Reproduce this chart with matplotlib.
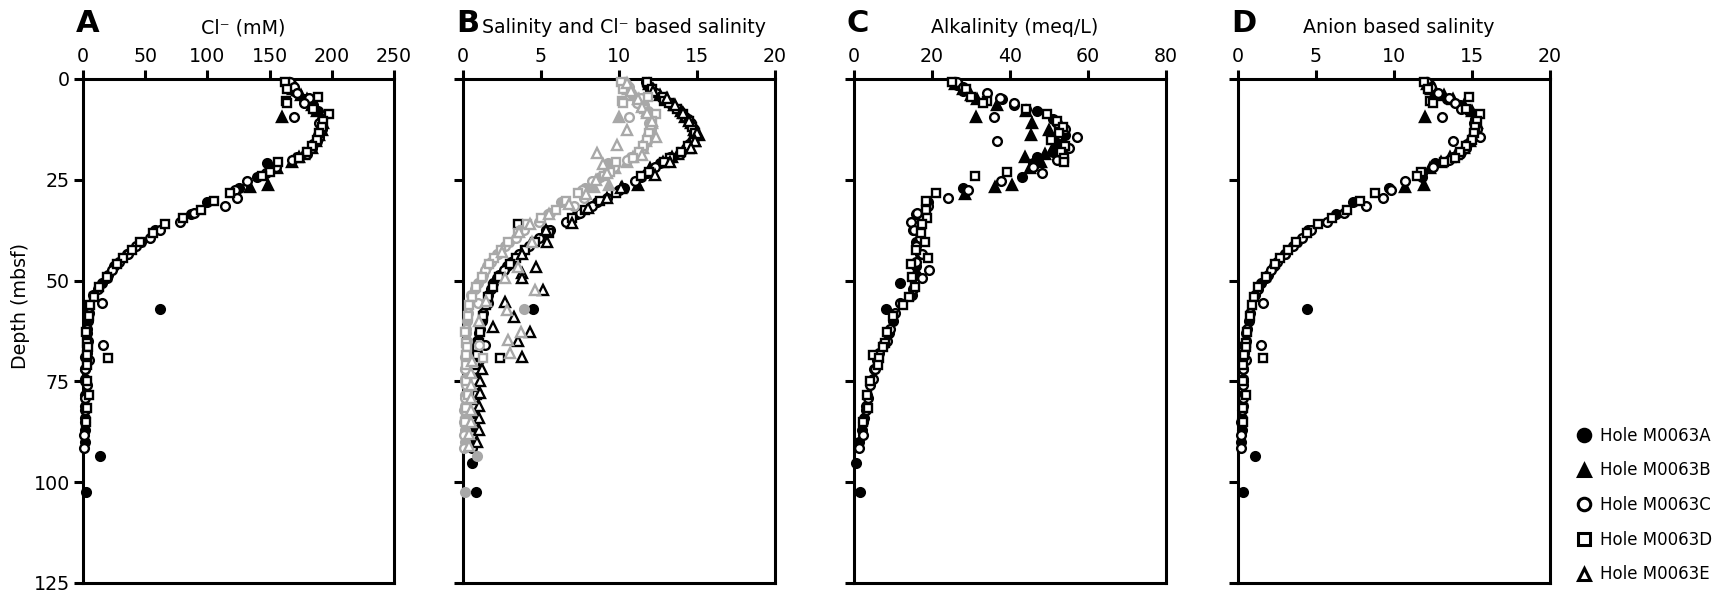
import numpy as np
import matplotlib
matplotlib.use("Agg")
import matplotlib.pyplot as plt
from matplotlib.lines import Line2D

plt.rcParams["font.family"] = ["DejaVu Sans"]

nan = np.nan

# ---------------- Hole M0063A ----------------
depth_a = [1.5, 3.0, 5.0, 6.4, 8.0, 10.0, 12.0, 14.0, 16.0, 18.0,
           19.3, 20.8, 24.2, 27.0, 30.5, 33.5, 37.5, 40.5, 43.5, 46.5,
           48.5, 50.6, 53.6, 57.0, 60.0, 63.0, 66.0, 69.0, 72.0, 75.0,
           78.4, 81.0, 84.0, 87.0, 90.0, 93.5, 95.3, 102.5]
cl_a = [168, 170, 178, 185, 189, 192, 191, 189, 185, 180,
        172, 148, 140, 125, 100, 87, 58, 47, 35, 25,
        20, 15, 8, 62, 4, 3, 3, 2, 2, 2,
        2, 2, 2, 2, 2, 14, nan, 2.5]
sal_a = [11.8, 12.0, 12.9, 13.4, 13.9, 14.4, 14.7, 14.9, 14.5, 14.0,
         13.3, 12.6, 11.4, 10.3, 8.6, 7.3, 5.3, 4.5, 3.7, 2.8,
         2.3, 1.9, 1.6, 4.5, 1.2, 1.0, 0.9, 0.8, 0.8, 0.8,
         0.8, 0.7, 0.7, 0.6, 0.6, nan, 0.6, 0.85]
anion_a = [12.3, 12.5, 13.4, 14.2, 14.8, 15.2, 15.2, 15.1, 14.7, 14.3,
           13.8, 12.6, 11.8, 9.7, 7.4, 6.3, 4.5, 3.8, 3.0, 2.3,
           1.9, 1.5, 1.1, 4.4, 0.7, 0.5, 0.4, 0.35, 0.3, 0.3,
           0.3, 0.3, 0.25, 0.25, 0.2, 1.1, nan, 0.3]
alk_a = [26.5, 28, 38, 41, 47, 51, 53, 54, 53, 51,
         47, 46, 43, 28, 19, 16, 15, 16, 17, 16,
         16, 11.9, 14.9, 8.2, 10, 9, 7.5, 6, 5, 4.2,
         3.3, 3, 2.5, 2, 1.2, nan, 0.6, 1.6]

# ---------------- Hole M0063B ----------------
depth_b = [1.2, 2.5, 4.0, 5.0, 6.5, 8.0, 9.5, 11.0, 12.6, 14.0,
           15.5, 17.0, 18.5, 19.3, 20.5, 22.0, 26.3, 26.8, 28.6]
cl_b = [166, 169, 175, 180, 184, 188, 160, 193, 192, 190,
        187, 184, 178, 174, 168, 156, 149, 134, nan]
sal_b = [11.9, 12.2, 12.6, 13.0, 13.5, 14.0, 14.2, 14.6, 14.8, 15.1,
         14.9, 14.4, 13.8, 13.4, 12.8, 12.0, 11.2, 10.2, nan]
anion_b = [12.1, 12.4, 13.2, 13.8, 14.5, 15.0, 12.0, 15.3, 15.2, 15.0,
           14.9, 14.5, 14.0, 13.6, 13.0, 12.3, 11.9, 10.7, nan]
alk_b = [26, 28, 30, 31.6, 36.7, 44, 31.3, 45.6, 50, 45.3,
         52, 51, 49, 43.9, 48, 45, 40.4, 36.1, 28.5]

# ---------------- Hole M0063C ----------------
depth_c = [0.8, 2.0, 3.5, 4.8, 6.0, 7.5, 9.5, 11.0, 12.5, 14.3,
           15.5, 17.0, 18.5, 20.0, 21.8, 23.4, 25.3, 27.5, 29.4, 31.5,
           33.3, 35.4, 37.5, 39.5, 41.5, 43.5, 45.5, 47.4, 49.4, 52.0,
           55.6, 58.0, 62.0, 65.0, 66.0, 68.0, 69.7, 72.0, 74.3, 76.0,
           79.0, 82.0, 85.0, 88.2, 91.5]
cl_c = [166, 170, 172, 182, 178, 185, 170, 190, 192, 190,
        188, 184, 180, 168, 155, 147, 132, 122, 124, 114,
        89, 78, 62, 54, 43, 36, 29, 23, 19, 12,
        15, 5, 3, 4, 16, 3, 5, 2, 2, 3,
        2, 1.5, 1.5, 1, 1]
sal_c = [11.7, 12.0, 12.4, 12.9, 13.3, 13.8, 14.2, 14.6, 14.8, 14.9,
         14.7, 14.3, 13.9, 13.2, 12.3, 11.8, 11.0, 10.0, 9.2, 8.3,
         7.5, 6.6, 5.6, 4.9, 4.2, 3.6, 3.1, 2.6, 2.2, 1.8,
         1.6, 1.3, 1.1, 0.9, 1.4, 0.9, 1.0, 0.8, 0.8, 0.8,
         0.7, 0.7, 0.6, 0.6, 0.6]
anion_c = [12.1, 12.4, 12.8, 13.5, 13.9, 14.3, 13.1, 15.1, 15.3, 15.5,
           13.8, 14.6, 14.2, 13.5, 12.5, 11.8, 10.7, 9.8, 9.3, 8.2,
           6.8, 5.7, 4.7, 4.1, 3.5, 3.0, 2.5, 2.1, 1.8, 1.3,
           1.6, 0.8, 0.6, 0.5, 1.5, 0.4, 0.5, 0.3, 0.3, 0.3,
           0.3, 0.25, 0.2, 0.2, 0.2]
alk_c = [26.5, 28, 34, 37.5, 40.9, 44, 35.9, 52, 54, 57.2,
         36.7, 55, 53, 52, 46, 48.2, 37.8, 29.3, 24, 19,
         16.2, 14.5, 15.5, 17, 16, 17.5, 16, 19.2, 17.4, 15,
         11.8, 10.5, 9.2, 8.5, 7.5, 6.5, 6, 5.5, 4.9, 4.2,
         3.5, 3, 2.3, 2.3, 1.2]

# ---------------- Hole M0063D ----------------
depth_d = [0.8, 2.5, 4.5, 5.5, 6.0, 7.5, 8.8, 10.5, 12.0, 13.5,
           15.1, 16.5, 18.0, 19.5, 20.5, 23.0, 24.1, 28.2, 30.3, 32.5,
           34.5, 36.0, 38.3, 40.5, 42.5, 44.5, 46.0, 49.0, 51.5, 54.0,
           56.0, 58.7, 62.7, 65.5, 66.4, 68.4, 69.2, 71.0, 75.0, 78.4,
           81.7, 85.0]
cl_d = [162, 164, 189, 163, 164, 185, 198, 193, 192, 190,
        188, 184, 180, 174, 157, 150, 144, 118, 105, 95,
        80, 66, 56, 46, 39, 32, 27, 19, 13, 9,
        6, 5, 2.4, 3, 4, 3, 20, 3, 3, 5,
        3, 2.4]
sal_d = [11.8, 12.1, 12.8, 12.9, 13.2, 13.7, 14.1, 14.5, 14.7, 14.9,
         14.8, 14.4, 14.0, 13.3, 12.9, 11.9, 11.4, 9.8, 8.8, 7.8,
         7.0, 3.5, 5.5, 4.6, 4.0, 3.4, 3.0, 2.3, 1.9, 1.6,
         1.5, 1.3, 1.1, 1.0, 0.9, 0.9, 2.4, 0.8, 0.8, 0.9,
         0.7, 0.7]
anion_d = [11.9, 12.2, 14.8, 12.3, 12.5, 14.6, 15.5, 15.3, 15.2, 15.1,
           15.0, 14.6, 14.2, 13.9, 13.2, 11.7, 11.5, 8.8, 7.8, 7.0,
           6.0, 5.1, 4.4, 3.7, 3.2, 2.7, 2.4, 1.8, 1.3, 1.0,
           0.9, 0.8, 0.6, 0.5, 0.5, 0.4, 1.6, 0.35, 0.3, 0.5,
           0.3, 0.3]
alk_d = [25, 28.8, 30, 34, 33, 44, 49.5, 52, 53.5, 52.5,
         50.4, 54, 53, 53.8, 53.8, 39.2, 31, 21, 18.4, 18.4,
         18.8, 17.5, 17.1, 18.2, 16, 19, 14.5, 14.9, 15.6, 14,
         12.6, 10, 8.5, 8, 7.5, 4.9, 6.5, 6.2, 4.2, 3.3,
         3.6, 2.3]

# ---------------- Hole M0063E (salinity only) ----------------
e_sal_depth = [3.0, 4.6, 6.5, 8.5, 10.5, 13.5, 15.5, 17.0, 20.5, 23.8,
               27.0, 29.5, 32.0, 35.8, 37.5, 40.4, 43.3, 46.6, 48.0, 49.4,
               52.4, 55.3, 59.0, 61.5, 62.8, 65.0, 69.0, 72.0, 75.0, 78.0,
               81.0, 84.0, 87.0, 90.0]
e_sal = [12.2, 13.1, 13.6, 14.1, 14.5, 15.0, 14.9, 14.6, 13.3, 12.3,
         10.1, 9.2, 8.0, 7.0, 5.3, 5.4, 3.8, 4.7, 3.8, 3.8,
         5.1, 2.7, 3.3, 1.9, 4.3, 3.5, 3.8, 1.2, 1.1, 1.1,
         1.0, 1.0, 1.0, 0.9]
e_clsal_depth = [1.0, 3.0, 5.0, 7.0, 8.5, 10.5, 12.6, 14.5, 16.4, 18.4,
                 18.8, 21.0, 23.4, 25.0, 28.4, 31.0, 33.5, 36.0, 38.0, 40.4,
                 43.0, 46.7, 49.4, 52.4, 55.0, 57.3, 60.0, 62.8, 64.8, 68.0,
                 70.0, 73.0, 76.0, 79.0, 82.0, 85.0, 88.0, 91.0]
e_clsal = [10.5, 10.8, 11.2, 11.5, 11.8, 12.1, 10.5, 12.4, 9.9, 8.6,
           11.5, 9.0, 9.2, 8.5, 7.9, 6.8, 5.5, 4.3, 3.6, 4.4,
           2.5, 3.5, 2.7, 4.6, 1.5, 2.8, 1.0, 3.7, 2.9, 3.0,
           0.6, 0.5, 0.5, 0.5, 0.5, 0.5, 0.4, 0.4]

hole_names = ["Hole M0063A", "Hole M0063B", "Hole M0063C",
              "Hole M0063D", "Hole M0063E"]

# Chloride-based salinity: seawater reference of 559 mM Cl- at salinity 35
CL_TO_SAL = 35.0 / 559.0

BLACK = "black"
GREY = "#a8a8a8"

# marker shape and fill per hole
STYLE = {
    "A": ("o", True),
    "B": ("^", True),
    "C": ("o", False),
    "D": ("s", False),
    "E": ("^", False),
}

W, H = 1732, 600
fig = plt.figure(figsize=(W / 100, H / 100), dpi=100)


def add_panel(left, right, top=79, bottom=583):
    return fig.add_axes([left / W, 1 - bottom / H, (right - left) / W,
                         (bottom - top) / H])


def points(ax, x, y, key, color=BLACK):
    marker, filled = STYLE[key]
    ms = 6.8 if marker == "^" else 6.3
    ax.plot(x, y, ls="none", marker=marker, ms=ms,
            mfc=color if filled else "white", mec=color, mew=1.7,
            clip_on=False, zorder=3)


def style_panel(ax, xmax, xstep, title, letter, ylabels=False):
    ax.set_xlim(0, xmax)
    ax.set_ylim(125, 0)
    ax.set_xticks(np.arange(0, xmax + xstep / 2, xstep))
    ax.set_yticks(np.arange(0, 126, 25))
    ax.xaxis.tick_top()
    ax.tick_params(axis="x", top=True, bottom=False, labeltop=True,
                   labelbottom=False, direction="out", length=6.5,
                   width=2.2, pad=2.5, labelsize=13.7)
    ax.tick_params(axis="y", left=True, right=False, labelleft=ylabels,
                   direction="out", length=6.5, width=2.2, pad=3,
                   labelsize=13.7)
    for sp in ax.spines.values():
        sp.set_linewidth(2.2)
    ax.annotate(title, xy=(0.5, 1), xycoords="axes fraction",
                xytext=(5, 46), textcoords="offset pixels",
                ha="center", va="baseline", fontsize=13.7)
    ax.annotate(letter, xy=(0, 1), xycoords="axes fraction",
                xytext=(-7, 47), textcoords="offset pixels",
                ha="left", va="baseline", fontsize=22, fontweight="bold")


ax_a = add_panel(83, 394)
ax_b = add_panel(463, 775)
ax_c = add_panel(854, 1166)
ax_d = add_panel(1238, 1550)

depths = {"A": depth_a, "B": depth_b, "C": depth_c, "D": depth_d}
chloride = {"A": cl_a, "B": cl_b, "C": cl_c, "D": cl_d}
salinity = {"A": sal_a, "B": sal_b, "C": sal_c, "D": sal_d}
anion = {"A": anion_a, "B": anion_b, "C": anion_c, "D": anion_d}
alkalinity = {"A": alk_a, "B": alk_b, "C": alk_c, "D": alk_d}

# A: chloride
for k in "ABCD":
    points(ax_a, chloride[k], depths[k], k)

# B: measured salinity (black) and chloride-based salinity (grey)
for k in "ABCD":
    points(ax_b, salinity[k], depths[k], k)
points(ax_b, e_sal, e_sal_depth, "E")
for k in "ABCD":
    points(ax_b, np.asarray(chloride[k], float) * CL_TO_SAL, depths[k], k,
           color=GREY)
points(ax_b, e_clsal, e_clsal_depth, "E", color=GREY)

# C: alkalinity
for k in "ABCD":
    points(ax_c, alkalinity[k], depths[k], k)

# D: anion-based salinity
for k in "ABCD":
    points(ax_d, anion[k], depths[k], k)

style_panel(ax_a, 250, 50, "Cl\u207b (mM)", "A", ylabels=True)
style_panel(ax_b, 20, 5, "Salinity and Cl\u207b based salinity", "B")
style_panel(ax_c, 80, 20, "Alkalinity (meq/L)", "C")
style_panel(ax_d, 20, 5, "Anion based salinity", "D")

fig.text(21 / W, 1 - 306 / H, "Depth (mbsf)", rotation=90,
         ha="center", va="center", fontsize=13.7)

handles = []
for k in "ABCDE":
    marker, filled = STYLE[k]
    handles.append(Line2D([], [], ls="none", marker=marker, ms=9,
                          mfc=BLACK if filled else "white", mec=BLACK,
                          mew=2.2))
fig.legend(handles, hole_names, loc="center left",
           bbox_to_anchor=(1576 / W, 1 - 505 / H), frameon=False,
           fontsize=12, handlelength=1.0, handletextpad=0.45,
           labelspacing=1.0, borderpad=0, borderaxespad=0, numpoints=1)

fig.savefig("out.png", dpi=100)
